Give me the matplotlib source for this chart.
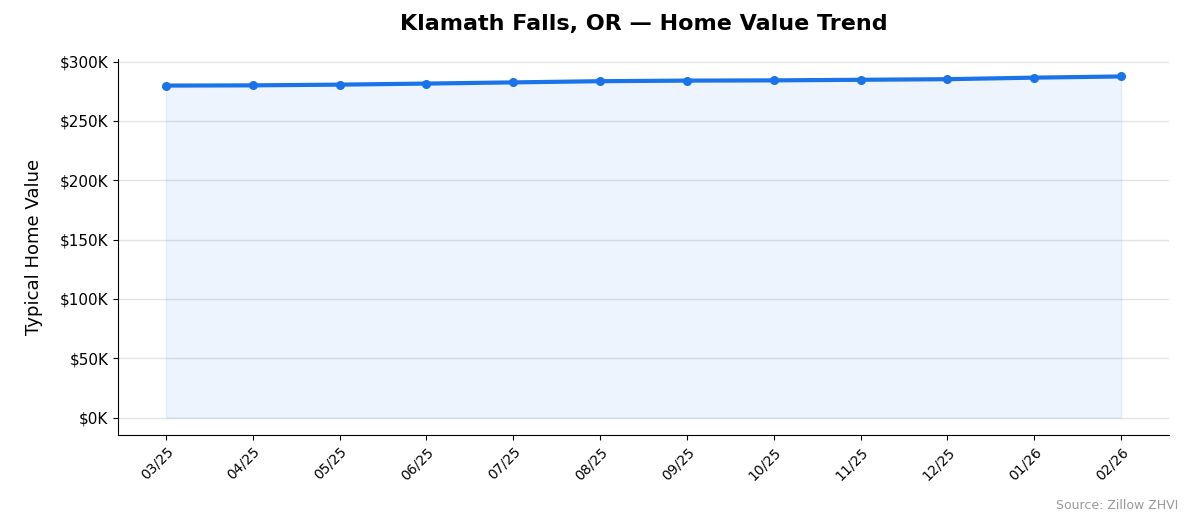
import matplotlib.pyplot as plt
from matplotlib.ticker import FuncFormatter

months = ["03/25", "04/25", "05/25", "06/25", "07/25", "08/25",
          "09/25", "10/25", "11/25", "12/25", "01/26", "02/26"]
values = [279800, 280000, 280600, 281500, 282500, 283500,
          284000, 284200, 284700, 285200, 286500, 287500]

fig = plt.figure(figsize=(11.94, 5.29), dpi=100)
ax = fig.add_axes([0.099, 0.178, 0.88, 0.71])

x = range(len(months))
ax.fill_between(x, values, 0, color="#1a73e8", alpha=0.08)
ax.plot(x, values, color="#1a73e8", linewidth=3, marker="o", markersize=5.5)

ax.set_ylim(-14500, 302000)
ax.set_xlim(-0.55, 11.55)
ax.set_yticks(range(0, 300001, 50000))
ax.yaxis.set_major_formatter(FuncFormatter(lambda v, p: f"${v/1000:.0f}K"))
ax.set_xticks(list(x))
ax.set_xticklabels(months, rotation=45, fontsize=10, ha="right",
                   rotation_mode="anchor")
ax.tick_params(axis="y", labelsize=11)
ax.grid(axis="y", color="#dddddd", linewidth=1, alpha=0.8)
ax.set_axisbelow(True)
for s in ("top", "right"):
    ax.spines[s].set_visible(False)

ax.set_ylabel("Typical Home Value", fontsize=13, labelpad=12)
ax.set_title("Klamath Falls, OR — Home Value Trend", fontsize=16,
             fontweight="bold", pad=21)
fig.text(0.987, 0.037, "Source: Zillow ZHVI", ha="right", fontsize=9,
         color="#999999")

fig.savefig("out.png", dpi=100)
